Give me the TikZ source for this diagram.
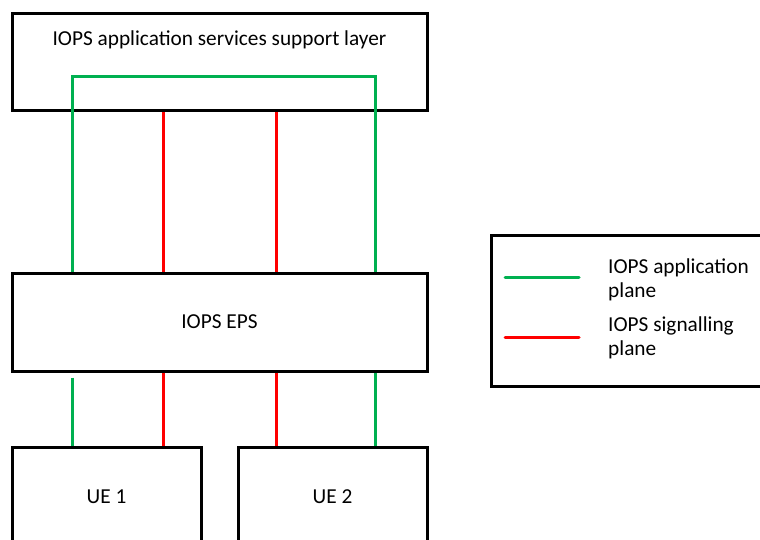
\documentclass[tikz,border=0pt]{standalone}
\usepackage{fontspec}
\setmainfont{Carlito}
\definecolor{appgreen}{RGB}{0,176,80}
\definecolor{sigred}{RGB}{255,0,0}
\begin{document}
\begin{tikzpicture}[x=1pt,y=-1pt,
    box/.style={draw,line width=3pt,inner sep=0pt},
    txt/.style={font=\fontsize{21.3}{24.5}\selectfont},
    appline/.style={draw=appgreen,line width=3pt},
    sigline/.style={draw=sigred,line width=3pt}]
  \useasboundingbox (0,0) rectangle (760,540);
  \clip (0,0) rectangle (760,540);
  \node[box,minimum width=415pt,minimum height=97pt] (layer) at (219.5,62.5) {};
  \node[txt] (layertext) at (219.5,40) {IOPS application services support layer};
  \node[box,txt,minimum width=415pt,minimum height=98pt] (eps) at (219.5,322) {IOPS EPS};
  \node[box,txt,minimum width=189pt,minimum height=100pt] (ue1) at (106.5,497) {UE 1};
  \node[box,txt,minimum width=189pt,minimum height=100pt] (ue2) at (332.5,497) {UE 2};
  \node[box,minimum width=290pt,minimum height=151pt] (legend) at (636.5,311) {};
  \coordinate (g1) at (72,77);
  \coordinate (g2) at (375,77);
  \coordinate (r1) at (163,0);
  \coordinate (r2) at (276,0);
  \draw[appline] (eps.north -| g1) -- (g1) -- (g2) -- (eps.north -| g2);
  \draw[sigline] (layer.south -| r1) -- (eps.north -| r1);
  \draw[sigline] (layer.south -| r2) -- (eps.north -| r2);
  \coordinate (g1low) at ([yshift=-5pt]eps.south -| g1);
  \draw[appline] (g1low) -- (ue1.north -| g1);
  \draw[sigline] (eps.south -| r1) -- (ue1.north -| r1);
  \draw[sigline] (eps.south -| r2) -- (ue2.north -| r2);
  \draw[appline] (eps.south -| g2) -- (ue2.north -| g2);
  \coordinate (key1a) at (505,277);
  \coordinate (key1b) at (579,277);
  \coordinate (key2a) at (505,337);
  \coordinate (key2b) at (579,337);
  \draw[appline,line cap=round] (key1a) -- (key1b);
  \draw[sigline,line cap=round] (key2a) -- (key2b);
  \node[txt,align=left,anchor=west,inner sep=0pt] (key1) at (608,280) {IOPS application\\plane};
  \node[txt,align=left,anchor=west,inner sep=0pt] (key2) at (608,338) {IOPS signalling\\plane};
\end{tikzpicture}
\end{document}
